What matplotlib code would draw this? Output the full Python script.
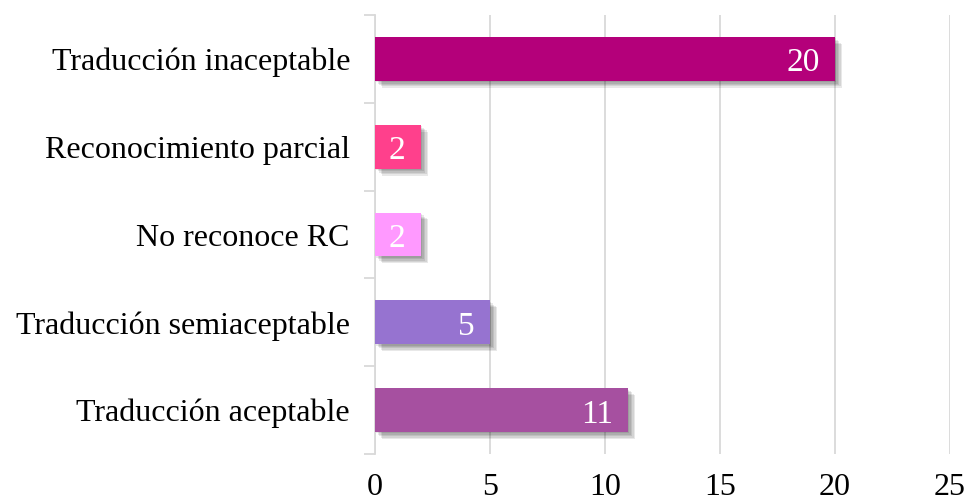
import matplotlib
matplotlib.use("Agg")
import matplotlib.pyplot as plt
import matplotlib.patheffects as pe
from matplotlib.ticker import FixedLocator, NullFormatter

categories = ["Traducción aceptable", "Traducción semiaceptable", "No reconoce RC",
              "Reconocimiento parcial", "Traducción inaceptable"]
values = [11, 5, 2, 2, 20]
colors = ["#A650A0", "#9673D0", "#FF99FF", "#FF408C", "#B4007A"]
xticks = [0, 5, 10, 15, 20, 25]

plt.rcParams['font.family'] = ['Liberation Serif', 'DejaVu Serif']

fig = plt.figure(figsize=(9.69, 5.04), dpi=100)
ax = fig.add_axes([375/969, 1-454/504, 575/969, 439/504])

ypos = list(range(len(categories)))
bars = ax.barh(ypos, values, height=0.5, color=colors, zorder=3)
shadow = [pe.SimplePatchShadow(offset=(o, -o), shadow_rgbFace='black', alpha=0.09)
          for o in (1.0, 2.0, 3.0, 4.0, 5.0)]
for b in bars:
    b.set_path_effects(shadow + [pe.Normal()])

for y, v in zip(ypos, values):
    ax.annotate(str(v), xy=(v, y), xytext=(-11, -0.5), textcoords='offset points',
                ha='right', va='center_baseline', color='white', fontsize=24, zorder=4)

ax.set_xlim(0, 25)
ax.set_ylim(-0.5, len(categories) - 0.5)
ax.set_xticks(xticks)
ax.set_xticklabels([str(t) for t in xticks], fontsize=23)
ax.tick_params(axis='x', length=0, pad=14)
ax.grid(axis='x', color='#D9D9D9', linewidth=1.3, zorder=0)

ax.set_yticks(ypos)
ax.set_yticklabels(categories, fontsize=23)
ax.tick_params(axis='y', which='major', length=0, pad=18)
ax.yaxis.set_minor_locator(FixedLocator([i - 0.5 for i in range(len(categories) + 1)]))
ax.yaxis.set_minor_formatter(NullFormatter())
ax.tick_params(axis='y', which='minor', length=8, width=1.3, color='#D9D9D9', direction='out')

for s in ['top', 'right', 'bottom']:
    ax.spines[s].set_visible(False)
ax.spines['left'].set_color('#D9D9D9')
ax.spines['left'].set_linewidth(1.3)

fig.savefig("out.png", dpi=100)
